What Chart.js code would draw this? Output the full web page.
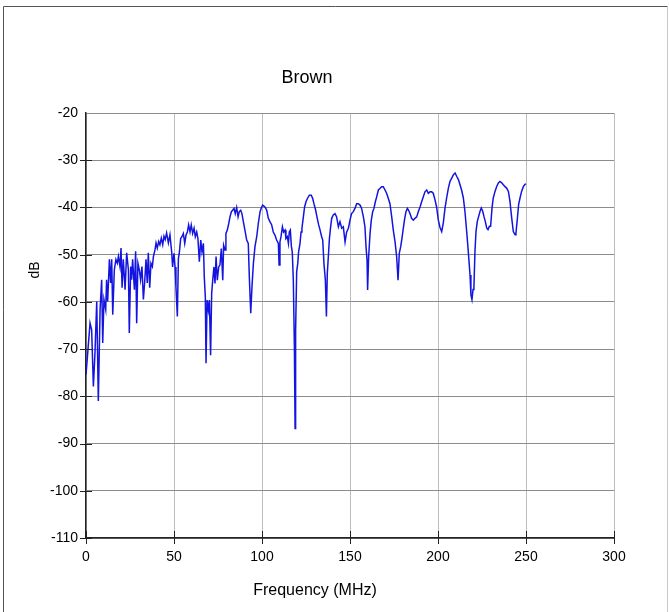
<!DOCTYPE html>
<html>
<head>
<meta charset="utf-8">
<script src="https://cdn.jsdelivr.net/npm/chart.js@4/dist/chart.umd.min.js"></script>
<style>
  html, body { margin: 0; padding: 0; background: #fff; }
  canvas { display: block; }
</style>
</head>
<body>
<canvas id="chart" width="669" height="612"></canvas>
<script>
// frequency points (MHz)
const freq = [
  0, 2.3, 3.2, 4.2, 5.1, 6.1, 7.0, 8.0, 8.9, 9.5, 10.2, 11.2, 11.7, 12.3, 13.3, 14.0, 14.6, 15.2,
  16.1, 17.0, 17.8, 18.4, 19.3, 19.9, 20.5, 21.2, 22.2, 23.1, 24.1, 24.6, 25.4, 25.9, 26.5, 27.5,
  28.2, 28.8, 29.5, 30.3, 31.0, 31.8, 32.6, 33.3, 34.1, 34.8, 35.4, 36.2, 36.9, 37.7, 38.3, 39.2,
  39.8, 40.5, 41.3, 42.0, 42.8, 43.6, 44.3, 45.0, 45.8, 46.8, 47.7, 48.7, 49.2, 50.0, 50.6, 51.1,
  51.9, 52.5, 53.0, 53.8, 54.5, 55.3, 56.1, 56.8, 57.6, 58.3, 59.1, 59.8, 60.6, 61.4, 62.1, 62.9,
  63.6, 64.4, 65.2, 65.9, 66.7, 67.2, 67.8, 68.2, 68.8, 69.5, 70.1, 70.8, 71.4, 72.0, 72.7, 73.3,
  73.9, 74.6, 75.4, 76.1, 76.9, 77.7, 78.2, 79.0, 79.5, 80.3, 81.1, 81.8, 82.6, 83.3, 84.1, 84.8,
  85.6, 86.4, 87.1, 87.9, 88.6, 89.4, 90.3, 91.3, 92.2, 92.8, 93.6, 94.3, 95.1, 96.0, 97.0, 97.9,
  98.9, 99.8, 100.4, 101.7, 102.7, 103.6, 104.5, 105.5, 106.4, 107.4, 108.3, 109.3, 109.7, 110.2,
  110.8, 111.6, 112.3, 113.1, 113.6, 114.4, 115.0, 115.5, 116.1, 116.7, 117.2, 117.8, 118.4, 118.8,
  119.1, 119.7, 120.3, 120.8, 121.6, 122.2, 122.7, 123.5, 124.2, 125.0, 125.8, 126.9, 128.0, 128.8,
  129.5, 130.5, 131.4, 132.2, 133.0, 133.9, 134.5, 135.2, 136.0, 136.6, 137.1, 137.7, 138.3, 139.0,
  139.6, 140.5, 141.5, 142.4, 143.4, 144.3, 145.3, 146.2, 147.2, 148.1, 149.1, 150.0, 150.9, 151.9,
  152.8, 153.8, 154.7, 155.7, 156.6, 157.6, 158.5, 159.1, 159.7, 160.0, 160.6, 161.4, 162.1, 162.9,
  163.6, 164.4, 165.2, 166.1, 167.0, 168.0, 168.9, 169.9, 170.8, 171.8, 172.7, 173.7, 174.6, 175.6,
  176.5, 177.3, 178.0, 178.8, 179.5, 180.3, 181.1, 181.8, 182.6, 183.3, 184.1, 185.0, 186.0, 186.9,
  187.9, 188.8, 189.8, 190.7, 191.7, 192.6, 193.6, 194.5, 195.5, 196.4, 197.3, 198.3, 199.2, 200.2,
  201.1, 202.1, 203.0, 204.0, 204.9, 205.9, 206.8, 207.8, 208.7, 209.7, 210.6, 211.6, 212.5, 213.4,
  214.4, 215.3, 216.3, 217.2, 218.2, 218.7, 219.3, 219.9, 220.4, 221.0, 221.6, 222.3, 223.1, 223.9,
  224.6, 225.4, 226.1, 226.9, 227.7, 228.4, 229.2, 229.9, 230.7, 231.4, 232.4, 233.3, 234.3, 235.2,
  236.2, 237.1, 238.1, 239.0, 240.0, 240.9, 241.9, 242.8, 243.8, 244.3, 245.1, 245.8, 246.6, 247.5,
  248.5, 249.4, 250.0
];

// magnitude (dB) at each frequency point
const db = [
  -75.4, -64.5, -65.9, -77.9, -70.8, -59.9, -81.0, -61.6, -55.3, -68.7, -59.5, -61.6, -55.3, -59.9, -51.0, -56.0, -51.0, -62.7,
  -53.2, -51.0, -51.8, -50.4, -52.5, -48.6, -57.0, -51.0, -57.4, -49.6, -53.2, -66.6, -52.5, -55.3, -51.0, -57.4,
  -49.3, -64.5, -51.8, -53.2, -55.3, -52.5, -59.5, -56.0, -51.0, -56.0, -49.6, -57.0, -51.8, -52.5, -50.4, -49.0,
  -47.5, -48.6, -47.2, -47.9, -46.5, -47.9, -46.1, -46.8, -45.4, -47.5, -45.8, -49.5, -52.6, -49.7, -52.6, -56.8,
  -63.1, -50.8, -49.7, -46.6, -46.2, -45.5, -47.6, -45.9, -45.2, -43.7, -45.2, -43.7, -45.5, -44.4, -46.2, -45.2,
  -46.6, -51.5, -46.9, -49.4, -47.6, -54.7, -58.9, -73.0, -59.6, -61.7, -59.6, -71.3, -58.2, -55.4, -52.6, -56.1,
  -50.4, -55.4, -52.6, -52.2, -48.7, -55.4, -48.0, -49.0, -45.5, -44.8, -43.4, -42.0, -40.9, -40.6, -40.2, -41.3,
  -40.0, -42.0, -40.9, -40.6, -41.3, -43.0, -44.8, -46.9, -47.6, -54.7, -62.4, -56.8, -51.9, -48.3, -46.2, -43.4,
  -40.9, -39.9, -39.5, -39.9, -40.6, -42.3, -43.0, -43.7, -45.2, -45.9, -46.9, -47.6, -52.2, -47.3,
  -46.2, -44.1, -45.2, -44.8, -46.6, -46.2, -47.6, -45.2, -44.8, -48.3, -49.4, -55.4, -69.5, -86.8,
  -66.0, -53.6, -51.9, -49.4, -47.6, -45.2, -44.4, -42.0, -39.9, -38.8, -38.1, -37.4, -37.4, -38.1,
  -39.2, -40.6, -42.3, -43.7, -44.8, -46.2, -46.9, -51.9, -55.4, -63.1, -54.0, -50.4, -46.6, -44.1,
  -42.3, -41.6, -41.3, -42.0, -44.1, -43.0, -44.4, -44.1, -47.3, -45.2, -44.4, -42.7, -41.3, -40.9,
  -40.2, -39.2, -39.2, -39.5, -40.2, -42.0, -44.1, -48.3, -51.2, -57.5, -50.4, -45.5, -42.7, -40.9,
  -40.2, -38.8, -37.7, -36.3, -36.0, -35.6, -35.6, -36.3, -37.0, -38.1, -39.2, -42.0, -44.8, -47.3,
  -50.4, -55.4, -49.7, -48.3, -46.6, -44.4, -42.3, -40.9, -40.2, -40.6, -41.3, -42.3, -42.7, -42.3,
  -42.0, -40.9, -39.9, -38.8, -37.7, -36.7, -36.3, -37.0, -36.7, -36.7, -37.0, -38.4, -39.9, -42.7,
  -44.2, -45.1, -43.3, -40.1, -38.0, -35.9, -34.5, -33.8, -33.1, -32.7, -33.4, -34.1, -35.2, -36.3,
  -38.0, -40.8, -45.1, -49.3, -54.3, -58.5, -59.5, -57.4, -57.1, -49.3, -45.1, -43.0, -41.9, -40.8,
  -40.1, -40.8, -41.9, -43.0, -44.4, -44.7, -44.0, -44.0, -40.1, -38.0, -36.6, -35.6, -34.8, -34.5,
  -34.8, -35.2, -35.6, -35.9, -36.6, -38.7, -42.3, -45.1, -45.8, -45.4, -42.3, -39.4, -38.0, -36.6,
  -35.6, -35.1, -35.0
];

const xTicks = [0, 50, 100, 150, 200, 250, 300];
const yTicks = [-110, -100, -90, -80, -70, -60, -50, -40, -30, -20];

const chartTitle = "Brown";
const xTitle = "Frequency (MHz)";
const yTitle = "dB";

const points = freq.map((f, i) => ({ x: f, y: db[i] }));

// frame, titles and crossing tick marks, drawn around the plot
const decorations = {
  id: "decorations",
  beforeDraw(chart) {
    const ctx = chart.ctx;
    ctx.save();
    ctx.fillStyle = "#fff";
    ctx.fillRect(0, 0, chart.width, chart.height);
    ctx.lineWidth = 1;
    ctx.strokeStyle = "#555";
    ctx.beginPath();
    ctx.moveTo(3.5, chart.height);
    ctx.lineTo(3.5, 6.5);
    ctx.lineTo(667.5, 6.5);
    ctx.stroke();
    ctx.strokeStyle = "#c8c8c8";
    ctx.beginPath();
    ctx.moveTo(667.5, 6.5);
    ctx.lineTo(667.5, chart.height);
    ctx.stroke();
    ctx.restore();
  },
  afterDraw(chart) {
    const ctx = chart.ctx;
    const { left, bottom } = chart.chartArea;
    const xs = chart.scales.x, ys = chart.scales.y;
    ctx.save();
    ctx.strokeStyle = "#222";
    ctx.lineWidth = 1;
    ctx.beginPath();
    yTicks.slice(0, -1).forEach(v => {
      const py = Math.round(ys.getPixelForValue(v)) + 0.5;
      ctx.moveTo(left - 6, py);
      ctx.lineTo(left + 6, py);
    });
    xTicks.forEach(v => {
      const px = Math.round(xs.getPixelForValue(v)) + 0.5;
      ctx.moveTo(px, bottom - 7);
      ctx.lineTo(px, bottom + 6);
    });
    ctx.stroke();

    ctx.fillStyle = "#000";
    ctx.textAlign = "center";
    ctx.textBaseline = "middle";
    ctx.font = "18px 'Liberation Sans', Arial, sans-serif";
    ctx.fillText(chartTitle, 307, 78);
    ctx.font = "16px 'Liberation Sans', Arial, sans-serif";
    ctx.fillText(xTitle, 315, 591);
    ctx.translate(35, 270);
    ctx.rotate(-Math.PI / 2);
    ctx.font = "14px 'Liberation Sans', Arial, sans-serif";
    ctx.fillText(yTitle, 0, 0);
    ctx.restore();
  }
};

new Chart(document.getElementById("chart"), {
  type: "line",
  data: {
    datasets: [{
      data: points,
      borderColor: "#1414e0",
      borderWidth: 1.5,
      pointRadius: 0,
      tension: 0,
      fill: false,
    }],
  },
  options: {
    responsive: false,
    animation: false,
    events: [],
    layout: { padding: { left: 0, right: 55, top: 113, bottom: 0 } },
    plugins: {
      legend: { display: false },
      title: { display: false },
      tooltip: { enabled: false },
    },
    scales: {
      x: {
        type: "linear",
        min: 0,
        max: 300,
        afterBuildTicks: (s) => { s.ticks = xTicks.map(v => ({ value: v })); },
        afterFit: (s) => { s.height = 74; },
        ticks: {
          color: "#000",
          padding: 11,
          maxRotation: 0,
          font: { family: "'Liberation Sans', Arial, sans-serif", size: 14 },
        },
        grid: { color: "#bdbdbd", drawTicks: false, lineWidth: 1 },
        border: { color: "#222", width: 1.5 },
      },
      y: {
        type: "linear",
        min: -110,
        max: -20,
        afterBuildTicks: (s) => { s.ticks = yTicks.map(v => ({ value: v })); },
        afterFit: (s) => { s.width = 86; },
        ticks: {
          color: "#000",
          padding: 8,
          font: { family: "'Liberation Sans', Arial, sans-serif", size: 14 },
        },
        grid: { color: "#8c8c8c", drawTicks: false, lineWidth: 1 },
        border: { color: "#222", width: 1.5 },
      },
    },
  },
  plugins: [decorations],
});
</script>
</body>
</html>
